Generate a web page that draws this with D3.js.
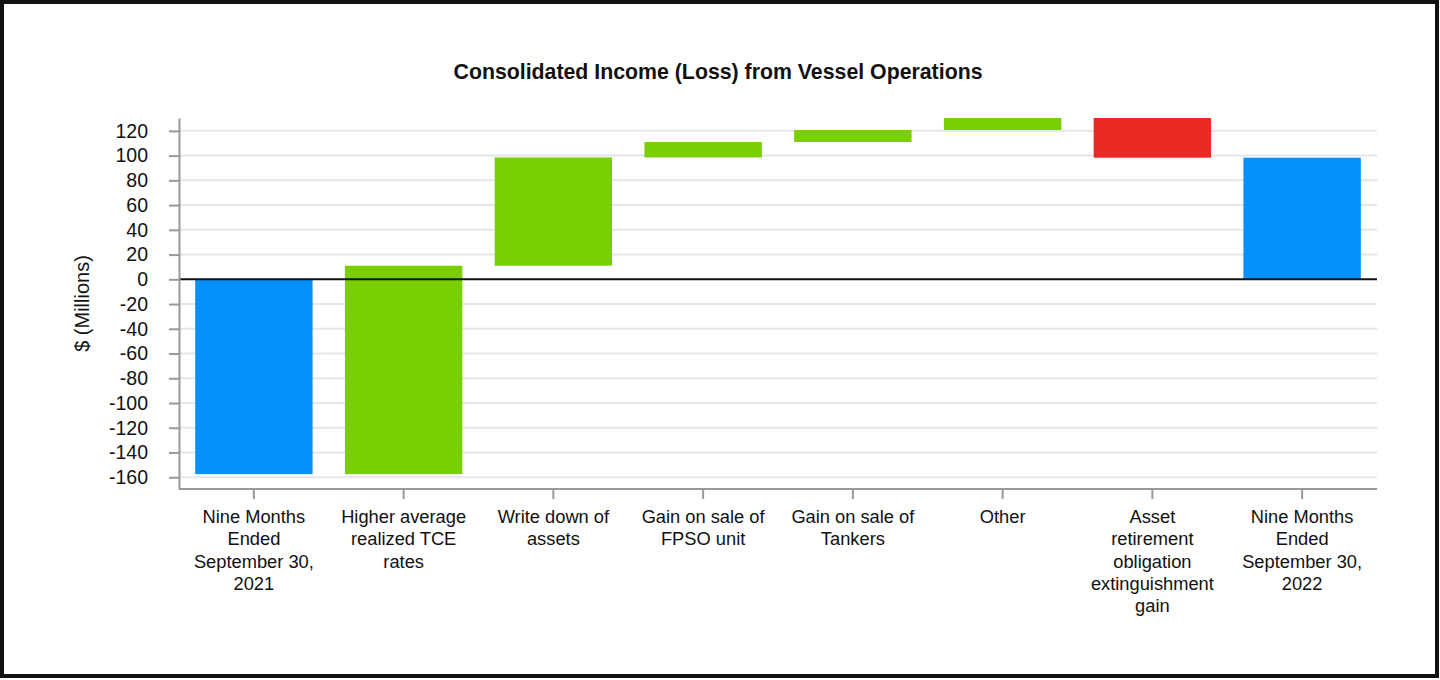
<!DOCTYPE html>
<html>
<head>
<meta charset="utf-8">
<script src="https://cdn.jsdelivr.net/npm/d3@7"></script>
<style>
	body { margin: 0; background: #fff; }
	svg text { font-family: "Liberation Sans", Arial, sans-serif; fill: #111; }
</style>
</head>
<body>
<div id="chartDiv"></div>
<script>
// waterfall data ($ millions)
var categories = [
	["Nine Months", "Ended", "September 30,", "2021"],
	["Higher average", "realized TCE", "rates"],
	["Write down of", "assets"],
	["Gain on sale of", "FPSO unit"],
	["Gain on sale of", "Tankers"],
	["Other"],
	["Asset", "retirement", "obligation", "extinguishment", "gain"],
	["Nine Months", "Ended", "September 30,", "2022"]
];
var startValue = -157.5;
var changes = [168.5, 87.5, 12.5, 9.7, 9.7, -32.1];
var yTicks = [-160, -140, -120, -100, -80, -60, -40, -20, 0, 20, 40, 60, 80, 100, 120];
var yMin = -169.5;

var width = 1440, height = 680;
var margin = { top: 118, right: 63, bottom: 191, left: 179 };

var colTotal = "#0590fb", colUp = "#79cf04", colDown = "#ec2a25";

// build bars from running total
var bars = [];
var running = startValue;
bars.push({ i: 0, y0: 0, y1: startValue, type: "total" });
changes.forEach(function(c, k) {
	bars.push({ i: k + 1, y0: running, y1: running + c, type: c >= 0 ? "up" : "down" });
	running += c;
});
bars.push({ i: categories.length - 1, y0: 0, y1: running, type: "total" });

var yMax = d3.max(bars, function(d) { return Math.max(d.y0, d.y1); });

var svg = d3.select("#chartDiv").append("svg")
	.attr("width", width)
	.attr("height", height);

svg.append("rect")
	.attr("x", 2).attr("y", 2)
	.attr("width", width - 5).attr("height", height - 6)
	.attr("fill", "#fff")
	.attr("stroke", "#111")
	.attr("stroke-width", 4);

var x = d3.scaleBand()
	.domain(d3.range(categories.length))
	.range([margin.left, width - margin.right])
	.paddingInner(0.216)
	.paddingOuter(0.108);

var y = d3.scaleLinear()
	.domain([yMin, yMax])
	.range([height - margin.bottom, margin.top]);

// gridlines
svg.append("g").selectAll("line")
	.data(yTicks.filter(function(t) { return t !== 0; }))
	.enter().append("line")
		.attr("x1", margin.left).attr("x2", width - margin.right)
		.attr("y1", function(d) { return y(d); })
		.attr("y2", function(d) { return y(d); })
		.attr("stroke", "#e6e6e6")
		.attr("stroke-width", 2);

// bars
svg.append("g").selectAll("rect")
	.data(bars)
	.enter().append("rect")
		.attr("x", function(d) { return x(d.i); })
		.attr("width", x.bandwidth())
		.attr("y", function(d) { return y(Math.max(d.y0, d.y1)); })
		.attr("height", function(d) { return Math.abs(y(d.y0) - y(d.y1)); })
		.attr("fill", function(d) {
			return d.type === "total" ? colTotal : (d.type === "up" ? colUp : colDown);
		});

// zero line
svg.append("line")
	.attr("x1", margin.left).attr("x2", width - margin.right)
	.attr("y1", y(0)).attr("y2", y(0))
	.attr("stroke", "#111")
	.attr("stroke-width", 2);

// y axis
var yAxis = d3.axisLeft(y)
	.tickValues(yTicks)
	.tickSize(10)
	.tickPadding(21)
	.tickSizeOuter(0)
	.tickFormat(function(d) { return String(d); });
var yG = svg.append("g")
	.attr("transform", "translate(" + margin.left + ",0)")
	.call(yAxis);
yG.select(".domain").attr("stroke", "#999").attr("stroke-width", 2);
yG.selectAll(".tick line").attr("stroke", "#999").attr("stroke-width", 2);
yG.selectAll(".tick text")
	.style("font-size", "19.5px")
	.attr("fill", "#111");

// x axis
var xAxis = d3.axisBottom(x).tickSize(10).tickSizeOuter(0).tickFormat("");
var xG = svg.append("g")
	.attr("transform", "translate(0," + y(yMin) + ")")
	.call(xAxis);
xG.select(".domain").attr("stroke", "#999").attr("stroke-width", 2)
	.attr("d", "M" + margin.left + ",0H" + (width - margin.right));
xG.selectAll(".tick line").attr("stroke", "#999").attr("stroke-width", 2);

// wrapped category labels
svg.append("g").selectAll("text")
	.data(categories)
	.enter().append("text")
		.attr("text-anchor", "middle")
		.attr("x", function(d, i) { return x(i) + x.bandwidth() / 2; })
		.attr("y", 523)
		.style("font-size", "18.3px")
		.each(function(lines) {
			var t = d3.select(this);
			lines.forEach(function(line, k) {
				t.append("tspan")
					.attr("x", t.attr("x"))
					.attr("dy", k === 0 ? 0 : 22.3)
					.text(line);
			});
		});

// title
svg.append("text")
	.attr("x", 718)
	.attr("y", 79)
	.attr("text-anchor", "middle")
	.style("font-size", "21.3px")
	.style("font-weight", "bold")
	.text("Consolidated Income (Loss) from Vessel Operations");

// y axis label
svg.append("text")
	.attr("text-anchor", "middle")
	.attr("transform", "translate(89," + ((y(yMin) + y(yMax)) / 2) + ") rotate(-90)")
	.style("font-size", "20px")
	.text("$ (Millions)");
</script>
</body>
</html>
